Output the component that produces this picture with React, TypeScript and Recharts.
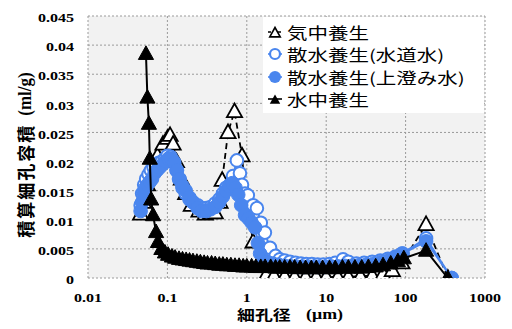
import { CartesianGrid, Legend, Scatter, ScatterChart, XAxis, YAxis } from 'recharts';

const xTicks = [0.01, 0.1, 1, 10, 100, 1000];
const yTicks = [0, 0.005, 0.01, 0.015, 0.02, 0.025, 0.03, 0.035, 0.04, 0.045];

const seriesNames = ['気中養生', '散水養生(水道水)', '散水養生(上澄み水)', '水中養生'];

// [pore diameter (µm), cumulative pore volume (ml/g)]
const airCured: [number, number][] = [
  [0.046, 0.011], [0.05, 0.013], [0.056, 0.016], [0.064, 0.019], [0.075, 0.021], [0.088, 0.023],
  [0.1, 0.024], [0.108, 0.0245], [0.118, 0.023], [0.13, 0.02], [0.15, 0.017], [0.17, 0.0145],
  [0.2, 0.0125], [0.25, 0.0115], [0.3, 0.011], [0.35, 0.0112], [0.4, 0.0112], [0.46, 0.013],
  [0.49, 0.0168], [0.58, 0.025], [0.7, 0.0286], [0.87, 0.021], [0.95, 0.015], [1.2, 0.0062],
  [1.5, 0.002], [1.8, 0.0008], [2.2, 0.0004], [3, 0.0003], [4, 0.0002], [5.5, 0.0002],
  [7.5, 0.0002], [10, 0.0002], [14, 0.0002], [19, 0.0002], [27, 0.0003], [38, 0.0004],
  [52, 0.0007], [68, 0.0013], [90, 0.0026], [181, 0.0092], [340, 0],
];

const sprayTap: [number, number][] = [
  [0.046, 0.0125], [0.048, 0.0145], [0.051, 0.016], [0.054, 0.017], [0.058, 0.0178], [0.062, 0.0185],
  [0.067, 0.019], [0.072, 0.0195], [0.078, 0.0198], [0.085, 0.02], [0.093, 0.0205], [0.1, 0.021],
  [0.11, 0.0208], [0.12, 0.02], [0.13, 0.0185], [0.14, 0.017], [0.155, 0.0155], [0.17, 0.0145],
  [0.19, 0.0135], [0.21, 0.013], [0.24, 0.0125], [0.27, 0.012], [0.31, 0.012], [0.35, 0.0122],
  [0.4, 0.0128], [0.45, 0.0135], [0.5, 0.0145], [0.55, 0.0155], [0.61, 0.016], [0.67, 0.0175],
  [0.75, 0.0202], [0.82, 0.018], [0.87, 0.016], [0.95, 0.0145], [1.03, 0.0142], [1.2, 0.0125],
  [1.34, 0.012], [1.5, 0.0095], [1.69, 0.0078], [1.96, 0.0052], [2.3, 0.0038], [2.6, 0.0032],
  [3, 0.003], [3.5, 0.0028], [4.1, 0.0026], [4.8, 0.0025], [5.6, 0.0024], [6.6, 0.0024],
  [7.8, 0.0023], [9.2, 0.0023], [11, 0.0024], [13, 0.0026], [16.3, 0.0032], [19, 0.0028],
  [24, 0.0025], [30, 0.0026], [38, 0.0028], [48, 0.003], [60, 0.0033], [75, 0.0037],
  [90, 0.0042], [181, 0.0068], [380, 0],
];

const spraySupernatant: [number, number][] = [
  [0.046, 0.0115], [0.048, 0.013], [0.05, 0.0145], [0.053, 0.0155], [0.056, 0.016], [0.06, 0.0165],
  [0.064, 0.017], [0.069, 0.018], [0.074, 0.0185], [0.08, 0.019], [0.087, 0.0195], [0.095, 0.02],
  [0.103, 0.0205], [0.112, 0.0205], [0.122, 0.0198], [0.132, 0.0185], [0.143, 0.017], [0.155, 0.0158],
  [0.17, 0.015], [0.19, 0.0138], [0.21, 0.013], [0.24, 0.012], [0.27, 0.0115], [0.31, 0.0115],
  [0.35, 0.0118], [0.4, 0.0122], [0.45, 0.013], [0.5, 0.014], [0.55, 0.015], [0.6, 0.0158],
  [0.66, 0.0163], [0.72, 0.0155], [0.78, 0.0143], [0.85, 0.0125], [0.95, 0.0108], [1.05, 0.0102],
  [1.15, 0.0095], [1.27, 0.0087], [1.38, 0.006], [1.47, 0.0042], [1.6, 0.0032], [1.8, 0.0028],
  [2.1, 0.0025], [2.5, 0.0023], [3, 0.0021], [3.6, 0.002], [4.4, 0.0019], [5.3, 0.0019],
  [6.4, 0.0019], [7.8, 0.0019], [9.5, 0.0019], [11.5, 0.002], [14, 0.002], [17, 0.0021],
  [21, 0.0021], [26, 0.0022], [32, 0.0023], [40, 0.0025], [50, 0.0028], [62, 0.0031],
  [76, 0.0036], [92, 0.0042], [181, 0.0063], [380, 0],
];

const waterCured: [number, number][] = [
  [0.0537, 0.0385], [0.056, 0.031], [0.0585, 0.0265], [0.06, 0.0205], [0.0625, 0.0135], [0.066, 0.0108],
  [0.072, 0.0079], [0.076, 0.0062], [0.084, 0.005], [0.093, 0.0044], [0.102, 0.004], [0.114, 0.0037],
  [0.125, 0.0035], [0.14, 0.0033], [0.155, 0.0032], [0.172, 0.0031], [0.19, 0.003], [0.21, 0.0029],
  [0.235, 0.0028], [0.26, 0.0027], [0.29, 0.0026], [0.32, 0.0025], [0.36, 0.0025], [0.4, 0.0024],
  [0.45, 0.0023], [0.5, 0.0023], [0.56, 0.0022], [0.63, 0.0022], [0.71, 0.0021], [0.8, 0.0021],
  [0.9, 0.002], [1, 0.002], [1.15, 0.002], [1.3, 0.0019], [1.5, 0.0019], [1.7, 0.0019],
  [2, 0.0019], [2.3, 0.0018], [2.6, 0.0018], [3, 0.0018], [3.5, 0.0018], [4, 0.0018],
  [4.7, 0.0017], [5.5, 0.0017], [6.5, 0.0017], [7.5, 0.0017], [9, 0.0017], [11, 0.0017],
  [13, 0.0017], [16, 0.0018], [19, 0.0018], [23, 0.0018], [28, 0.0018], [34, 0.0019],
  [42, 0.002], [52, 0.0022], [65, 0.0025], [80, 0.0029], [95, 0.0034], [181, 0.0047], [340, 0],
];

const toPoints = (rows: [number, number][]) => rows.map(([x, y]) => ({ x, y }));

const BLUE = '#4a86ee';
const STRETCH = 1.28;

type TickProps = { x?: number; y?: number; payload?: { value: number } };

const XTick = ({ x = 0, y = 0, payload }: TickProps) => (
  <text
    transform={`translate(${x},${y}) scale(${STRETCH},1)`}
    textAnchor="middle"
    dy="0.71em"
    fontFamily="Liberation Serif"
    fontWeight={700}
    fontSize={12.5}
    fill="#000"
  >
    {payload ? String(payload.value) : ''}
  </text>
);

const YTick = ({ x = 0, y = 0, payload }: TickProps) => (
  <text
    transform={`translate(${x},${y}) scale(${STRETCH},1)`}
    textAnchor="end"
    dy="0.5em"
    fontFamily="Liberation Serif"
    fontWeight={700}
    fontSize={12.5}
    fill="#000"
  >
    {payload ? String(payload.value) : ''}
  </text>
);

type ShapeProps = { cx?: number; cy?: number };

const triPoints = (cx: number, cy: number, s: number) =>
  `${cx},${cy - s} ${cx + s * 0.95},${cy + s * 0.7} ${cx - s * 0.95},${cy + s * 0.7}`;

const OpenTriangle = ({ cx = 0, cy = 0 }: ShapeProps) => (
  <polygon points={triPoints(cx, cy, 8)} fill="#fff" stroke="#000" strokeWidth={1.8} />
);
const FilledTriangle = ({ cx = 0, cy = 0 }: ShapeProps) => (
  <polygon points={triPoints(cx, cy, 8)} fill="#000" stroke="#000" strokeWidth={1} />
);
const OpenCircle = ({ cx = 0, cy = 0 }: ShapeProps) => (
  <circle cx={cx} cy={cy} r={6.3} fill="#fff" stroke={BLUE} strokeWidth={2} />
);
const FilledCircle = ({ cx = 0, cy = 0 }: ShapeProps) => (
  <circle cx={cx} cy={cy} r={6.8} fill={BLUE} stroke={BLUE} strokeWidth={1} />
);

function LegendMarker({ index }: { index: number }) {
  const cx = 12;
  const cy = 11;
  const color = index === 1 || index === 2 ? BLUE : '#000';
  return (
    <svg width={24} height={22} style={{ flex: 'none' }}>
      <line x1={5} x2={19} y1={cy} y2={cy} stroke={color} strokeWidth={1.6} strokeDasharray={index === 0 ? '3 2' : undefined} />
      {index === 0 && <polygon points={triPoints(cx, cy + 1, 5.5)} fill="#fff" stroke="#000" strokeWidth={1.6} />}
      {index === 1 && <circle cx={cx} cy={cy} r={5} fill="#fff" stroke={BLUE} strokeWidth={2.2} />}
      {index === 2 && <circle cx={cx} cy={cy} r={6} fill={BLUE} />}
      {index === 3 && <polygon points={triPoints(cx, cy + 1, 5.5)} fill="#000" />}
    </svg>
  );
}

function LegendBox() {
  return (
    <div style={{ background: '#fff', width: 221, height: 96, paddingTop: 4, boxSizing: 'border-box' }}>
      {seriesNames.map((name, i) => (
        <div key={name} style={{ display: 'flex', alignItems: 'center', height: 22.3 }}>
          <LegendMarker index={i} />
          <span
            style={{
              display: 'inline-block',
              fontFamily: '"Noto Sans CJK JP"',
              fontSize: 15.4,
              lineHeight: '22px',
              color: '#000',
              whiteSpace: 'nowrap',
              transform: 'scaleX(1.33)',
              transformOrigin: 'left center',
            }}
          >
            {name}
          </span>
        </div>
      ))}
    </div>
  );
}

const XTitle = () => (
  <text transform={`translate(290,314) scale(${STRETCH},1)`} textAnchor="middle" dominantBaseline="central" fill="#000">
    <tspan fontFamily="Noto Sans CJK JP" fontWeight={700} fontSize={14}>細孔径</tspan>
    <tspan dx={12} fontFamily="Liberation Serif" fontWeight={700} fontSize={14}>(μm)</tspan>
  </text>
);

const YTitle = () => (
  <text transform="translate(25,155) rotate(-90) scale(1,1.1)" textAnchor="middle" dominantBaseline="central" fill="#000">
    <tspan fontFamily="Noto Sans CJK JP" fontWeight={700} fontSize={17} letterSpacing={2}>積算細孔容積</tspan>
    <tspan dx={8} fontFamily="Liberation Serif" fontWeight={700} fontSize={17}>(ml/g)</tspan>
  </text>
);

export default function App() {
  return (
    <div style={{ position: 'absolute', left: 0, top: 0 }}>
      <ScatterChart width={512} height={329} margin={{ top: 16, right: 27, bottom: 0, left: 0 }}>
        <CartesianGrid stroke="#9a9a9a" strokeDasharray="2 2" fill="#f2f2f2" />
        <XAxis
          type="number"
          dataKey="x"
          scale="log"
          domain={[0.01, 1000]}
          ticks={xTicks}
          interval={0}
          allowDataOverflow
          height={51}
          axisLine={false}
          tickLine={false}
          tickSize={0}
          tickMargin={15}
          tick={XTick}
          label={<XTitle />}
        />
        <YAxis
          type="number"
          dataKey="y"
          domain={[0, 0.045]}
          ticks={yTicks}
          interval={0}
          allowDataOverflow
          width={88}
          axisLine={false}
          tickLine={false}
          tickSize={0}
          tickMargin={14}
          tick={YTick}
          label={<YTitle />}
        />
        <Legend
          layout="horizontal"
          verticalAlign="middle"
          align="center"
          content={() => <LegendBox />}
          wrapperStyle={{ left: 263, top: 17, width: 221, height: 96 }}
        />
        <Scatter
          name={seriesNames[0]}
          data={toPoints(airCured)}
          line={{ stroke: '#000', strokeWidth: 1.8, strokeDasharray: '6 4' }}
          shape={OpenTriangle}
          isAnimationActive={false}
        />
        <Scatter
          name={seriesNames[1]}
          data={toPoints(sprayTap)}
          line={{ stroke: BLUE, strokeWidth: 2 }}
          shape={OpenCircle}
          isAnimationActive={false}
        />
        <Scatter
          name={seriesNames[2]}
          data={toPoints(spraySupernatant)}
          line={{ stroke: BLUE, strokeWidth: 2 }}
          shape={FilledCircle}
          isAnimationActive={false}
        />
        <Scatter
          name={seriesNames[3]}
          data={toPoints(waterCured)}
          line={{ stroke: '#000', strokeWidth: 2 }}
          shape={FilledTriangle}
          isAnimationActive={false}
        />
      </ScatterChart>
    </div>
  );
}
